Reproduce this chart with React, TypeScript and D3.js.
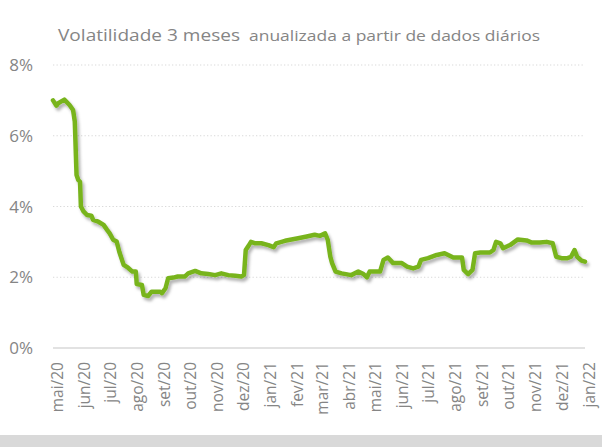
import * as d3 from "d3";

const W = 602;
const H = 447;
const MARGIN = { left: 53, right: 17, top: 65, bottom: 99 };

const TITLE_MAIN = "Volatilidade 3 meses";
const TITLE_SUB = "anualizada a partir de dados diários";

const MONTH_LABELS = [
  "mai/20", "jun/20", "jul/20", "ago/20", "set/20", "out/20", "nov/20",
  "dez/20", "jan/21", "fev/21", "mar/21", "abr/21", "mai/21", "jun/21",
  "jul/21", "ago/21", "set/21", "out/21", "nov/21", "dez/21", "jan/22",
];

const Y_TICKS = [0, 2, 4, 6, 8];

// volatility in %
const DATES = [
  "2020-05-01", "2020-05-05", "2020-05-07", "2020-05-14", "2020-05-20", "2020-05-24",
  "2020-05-26", "2020-05-28", "2020-05-30", "2020-06-01", "2020-06-02", "2020-06-05",
  "2020-06-09", "2020-06-14", "2020-06-16", "2020-06-22", "2020-06-28", "2020-07-02",
  "2020-07-05", "2020-07-09", "2020-07-13", "2020-07-16", "2020-07-21", "2020-07-26",
  "2020-07-31", "2020-08-04", "2020-08-05", "2020-08-11", "2020-08-13", "2020-08-18",
  "2020-08-22", "2020-09-01", "2020-09-03", "2020-09-07", "2020-09-10", "2020-09-16",
  "2020-09-21", "2020-09-29", "2020-10-03", "2020-10-11", "2020-10-18", "2020-10-26",
  "2020-11-03", "2020-11-10", "2020-11-18", "2020-11-26", "2020-12-03", "2020-12-06",
  "2020-12-08", "2020-12-11", "2020-12-14", "2020-12-19", "2020-12-26", "2021-01-03",
  "2021-01-09", "2021-01-12", "2021-01-22", "2021-01-28", "2021-02-06", "2021-02-16",
  "2021-02-25", "2021-03-03", "2021-03-09", "2021-03-12", "2021-03-15", "2021-03-17",
  "2021-03-21", "2021-03-28", "2021-04-08", "2021-04-16", "2021-04-22", "2021-04-26",
  "2021-04-29", "2021-05-11", "2021-05-15", "2021-05-20", "2021-05-26", "2021-06-05",
  "2021-06-11", "2021-06-18", "2021-06-24", "2021-06-27", "2021-07-05", "2021-07-15",
  "2021-07-24", "2021-08-03", "2021-08-13", "2021-08-15", "2021-08-20", "2021-08-25",
  "2021-08-28", "2021-09-03", "2021-09-14", "2021-09-18", "2021-09-21", "2021-09-26",
  "2021-09-29", "2021-10-07", "2021-10-16", "2021-10-26", "2021-11-01", "2021-11-10",
  "2021-11-18", "2021-11-25", "2021-11-29", "2021-12-05", "2021-12-12", "2021-12-16",
  "2021-12-20", "2021-12-23", "2021-12-28", "2022-01-01",
];

const VOL = [
  7.0, 6.85, 6.92, 7.02, 6.87, 6.73,
  6.4, 4.89, 4.75, 4.7, 4.0, 3.86,
  3.76, 3.74, 3.62, 3.57, 3.48, 3.34,
  3.24, 3.06, 3.01, 2.72, 2.35, 2.27,
  2.16, 2.16, 1.81, 1.78, 1.5, 1.47,
  1.59, 1.59, 1.55, 1.69, 1.97, 1.99,
  2.02, 2.02, 2.11, 2.18, 2.11, 2.09,
  2.06, 2.11, 2.06, 2.04, 2.02, 2.06,
  2.77, 2.88, 3.0, 2.96, 2.96, 2.91,
  2.85, 2.96, 3.03, 3.06, 3.1, 3.15,
  3.2, 3.17, 3.24, 3.06, 2.58, 2.4,
  2.16, 2.11, 2.06, 2.16, 2.09, 2.0,
  2.16, 2.16, 2.49, 2.56, 2.4, 2.4,
  2.3, 2.25, 2.3, 2.49, 2.54, 2.63,
  2.68, 2.56, 2.56, 2.21, 2.09, 2.21,
  2.68, 2.7, 2.7, 2.77, 3.0, 2.96,
  2.82, 2.91, 3.07, 3.04, 2.98, 2.98,
  3.0, 2.96, 2.58, 2.54, 2.54, 2.58,
  2.77, 2.58, 2.47, 2.44,
];

const TEXT = "#858585";
const GRID = "#d9d9d9";
const GREEN = "#78b41e";
const FONT = "'Open Sans', 'Noto Sans', sans-serif";

export default function App() {
  const parse = d3.timeParse("%Y-%m-%d");
  const points = DATES.map((d, i) => ({ date: parse(d) as Date, v: VOL[i] }));

  const x = d3
    .scaleTime()
    .domain([new Date(2020, 4, 1), new Date(2022, 0, 1)])
    .range([MARGIN.left, W - MARGIN.right]);
  const y = d3
    .scaleLinear()
    .domain([0, 8])
    .range([H - MARGIN.bottom, MARGIN.top]);

  const monthTicks = x.ticks(d3.timeMonth.every(1)!);

  const line = d3
    .line<{ date: Date; v: number }>()
    .x((d) => x(d.date))
    .y((d) => y(d.v))
    .curve(d3.curveLinear);

  return (
    <div style={{ position: "absolute", left: 0, top: 0 }}>
      <svg width={W} height={H} style={{ display: "block", fontFamily: FONT }}>
        <defs>
          <filter id="shadow" x="-10%" y="-10%" width="120%" height="130%">
            <feDropShadow dx="2" dy="3" stdDeviation="1.8" floodColor="#000" floodOpacity="0.3" />
          </filter>
        </defs>
        <rect x={0} y={0} width={W} height={H} fill="#fff" />
        <rect x={0} y={435} width={W} height={12} fill="#d9d9d9" />

        <text x={58} y={41} fontSize={17} fill={TEXT} textLength={182} lengthAdjust="spacingAndGlyphs">
          {TITLE_MAIN}
        </text>
        <text x={249} y={41} fontSize={15} fill={TEXT} textLength={291} lengthAdjust="spacingAndGlyphs">
          {TITLE_SUB}
        </text>

        {Y_TICKS.map((t) => (
          <g key={t}>
            <line
              x1={MARGIN.left}
              x2={W - MARGIN.right}
              y1={y(t)}
              y2={y(t)}
              stroke={GRID}
              strokeWidth={t === 0 ? 1.5 : 1}
              strokeDasharray={t === 0 ? undefined : "1.3,2.2"}
            />
            <text
              x={33}
              y={y(t)}
              dy="0.36em"
              textAnchor="end"
              fontSize={17}
              fill={TEXT}
            >
              {t}%
            </text>
          </g>
        ))}

        {monthTicks.map((d, i) => (
          <text
            key={i}
            transform={`translate(${x(d) + 4},${362}) rotate(-90)`}
            dy="0.36em"
            textAnchor="end"
            fontSize={15.5}
            fill={TEXT}
          >
            {MONTH_LABELS[i]}
          </text>
        ))}

        <path
          d={line(points) ?? ""}
          fill="none"
          stroke={GREEN}
          strokeWidth={4.5}
          strokeLinejoin="round"
          strokeLinecap="round"
          filter="url(#shadow)"
        />
      </svg>
    </div>
  );
}
